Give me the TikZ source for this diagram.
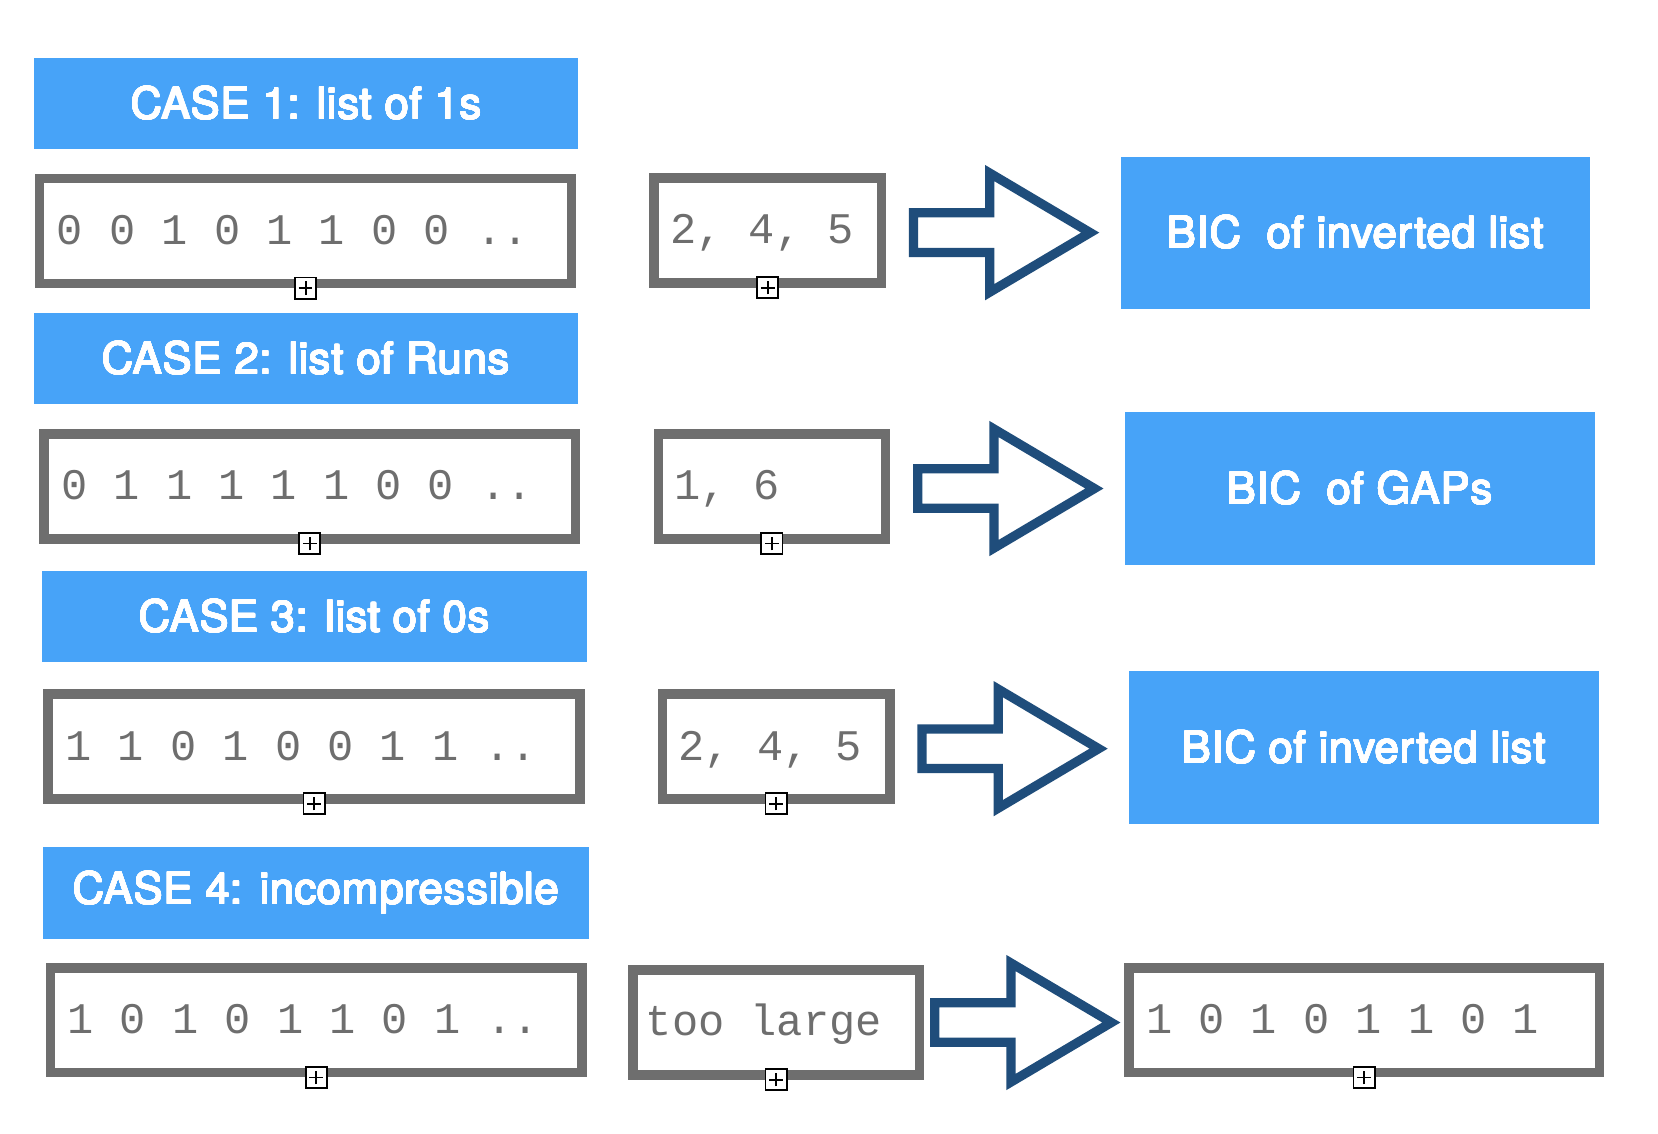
\documentclass[tikz,border=0pt]{standalone}
\usepackage{fontspec}
\usepackage{contour}
\contourlength{0.3pt}
\contournumber{24}
\setmainfont{TeX Gyre Heros}
\newfontfamily\titlefont[LetterSpace=1.5]{TeX Gyre Heros}
\newfontfamily\monofont{Liberation Mono}
\newcommand\ttl[1]{\contour{white}{#1}}
\definecolor{titleblue}{HTML}{47A3F8}
\definecolor{boxgray}{HTML}{6E6E6E}
\definecolor{arrowblue}{HTML}{1F4D7B}
\tikzset{
  titlebox/.style={fill=titleblue, text=white, inner sep=0pt,
    font=\titlefont\fontsize{23.5}{28}\selectfont},
  gbox/.style={draw=boxgray, line width=0.18cm, fill=white, inner sep=0pt,
    minimum height=1.98cm},
  mono/.style={text=boxgray, inner sep=0pt, anchor=west, text height=14.5pt, text depth=0pt,
    font=\monofont\fontsize{23.5}{28}\selectfont},
  plusmark/.style={draw=black, fill=white, line width=0.035cm, minimum size=0.4cm, inner sep=0pt,
    path picture={
      \draw[black, line width=0.035cm]
        ([xshift=-0.13cm]path picture bounding box.center) -- ([xshift=0.13cm]path picture bounding box.center)
        ([yshift=-0.13cm]path picture bounding box.center) -- ([yshift=0.13cm]path picture bounding box.center);
    }},
  arrowline/.style={draw=arrowblue, line width=0.175cm, line join=miter, fill=white},
  barrow/.pic={
    \draw[arrowline] (0,-18.7) -- (72,-18.7) -- (72,-56.3) -- (167,0) -- (72,56.3) -- (72,18.7) -- (0,18.7) -- cycle;
  }
}
\begin{document}
\begin{tikzpicture}[x=0.02cm, y=-0.02cm]
\useasboundingbox (0,0) rectangle (1568,1072);
\fill[white] (0,0) rectangle (1568,1072);

% Row 1
\node[titlebox, minimum width=10.30cm, minimum height=1.72cm] (t1) at (289.5,98) {\ttl{CASE 1: list of 1s}};
\node[gbox, minimum width=10.06cm] (b1) at (289,218.5) {};
\node[mono] (b1t) at ([xshift=0.41cm]b1.west) {0 0 1 0 1 1 0 0 ..};
\node[plusmark] (m1) at (b1.south) {};
\node[gbox, minimum width=4.30cm] (s1) at (726,218) {};
\node[mono] (s1t) at ([xshift=0.39cm]s1.west) {2, 4, 5};
\node[plusmark] (n1) at (s1.south) {};
\pic at (864,220) {barrow};
\node[titlebox, minimum width=8.88cm, minimum height=2.88cm] (r1) at (1282,220) {\ttl{BIC\ \ of inverted list}};

% Row 2
\node[titlebox, minimum width=10.30cm, minimum height=1.72cm] (t2) at (289.5,339) {\ttl{CASE 2: list of Runs}};
\node[gbox, minimum width=10.06cm] (b2) at (293,460) {};
\node[mono] (b2t) at ([xshift=0.41cm]b2.west) {0 1 1 1 1 1 0 0 ..};
\node[plusmark] (m2) at (b2.south) {};
\node[gbox, minimum width=4.30cm] (s2) at (730,460) {};
\node[mono] (s2t) at ([xshift=0.39cm]s2.west) {1, 6};
\node[plusmark] (n2) at (s2.south) {};
\pic at (868,462) {barrow};
\node[titlebox, minimum width=8.88cm, minimum height=2.88cm] (r2) at (1286,462) {\ttl{BIC\ \ of GAPs}};

% Row 3
\node[titlebox, minimum width=10.30cm, minimum height=1.72cm] (t3) at (297.5,583) {\ttl{CASE 3: list of 0s}};
\node[gbox, minimum width=10.06cm] (b3) at (297,706) {};
\node[mono] (b3t) at ([xshift=0.41cm]b3.west) {1 1 0 1 0 0 1 1 ..};
\node[plusmark] (m3) at (b3.south) {};
\node[gbox, minimum width=4.30cm] (s3) at (734,706) {};
\node[mono] (s3t) at ([xshift=0.39cm]s3.west) {2, 4, 5};
\node[plusmark] (n3) at (s3.south) {};
\pic at (872,708) {barrow};
\node[titlebox, minimum width=8.88cm, minimum height=2.88cm] (r3) at (1290,707) {\ttl{BIC of inverted list}};

% Row 4
\node[titlebox, minimum width=10.32cm, minimum height=1.74cm] (t4) at (299,844.5) {\ttl{CASE 4: incompressible}};
\node[gbox, minimum width=10.06cm] (b4) at (299,965) {};
\node[mono] (b4t) at ([xshift=0.41cm]b4.west) {1 0 1 0 1 1 0 1 ..};
\node[plusmark] (m4) at (b4.south) {};
\node[gbox, minimum width=5.42cm] (s4) at (734,967) {};
\node[mono] (s4t) at ([xshift=0.33cm]s4.west) {too large};
\node[plusmark] (n4) at (s4.south) {};
\pic at (884,967) {barrow};
\node[gbox, minimum width=8.90cm] (r4) at (1290,965) {};
\node[mono] (r4t) at ([xshift=0.41cm]r4.west) {1 0 1 0 1 1 0 1};
\node[plusmark] (p4) at (r4.south) {};
\end{tikzpicture}
\end{document}
